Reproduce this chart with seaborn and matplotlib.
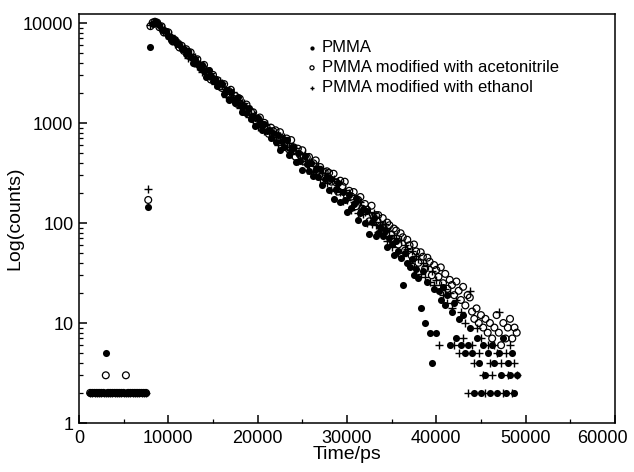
import matplotlib
matplotlib.use("Agg")
import matplotlib.pyplot as plt
import seaborn as sns
from matplotlib.ticker import FixedLocator, MultipleLocator, LogLocator, NullFormatter
from matplotlib.transforms import ScaledTranslation

# time channels (ps), one every 250 ps
time_ps = list(range(1250, 49001, 250))

series_labels = ["PMMA", "PMMA modified with acetonitrile", "PMMA modified with ethanol"]
x_tick_labels = ["0", "10000", "20000", "30000", "40000", "50000", "60000"]
y_tick_labels = ["1", "10", "100", "1000", "10000"]

# counts (background, rise, peak, decay, tail)
pmma = [
    2, 2, 2, 2, 2, 2, 2, 5, 2, 2, 2, 2, 2, 2, 2, 2, 2, 2, 2, 2, 2, 2, 2, 2, 2, 2,
    145, 5800, 9700, 10200, 10000,
    9550, 8470, 8470, 8390, 7450, 6800, 7090, 6550, 6170, 6170, 5470, 5480,
    4850, 5250, 4530, 3960, 4360, 4020, 3520, 3830, 3330, 2880, 3390, 2960,
    2640, 2760, 2320, 2540,
    2450, 1970, 2130, 1710, 2060, 1730, 1570, 1830, 1530, 1280, 1470, 1250,
    1400, 1100, 1180, 930, 1110, 976, 849, 986, 831, 846, 706, 799,
    648, 761, 540, 665, 582, 676, 483, 539, 573, 409, 502, 416,
    342, 469, 386, 335, 394, 293, 345, 291, 344, 241, 275, 288,
    213, 274, 172, 218, 250, 164, 205, 169, 129, 189, 140, 156,
    179, 108, 126, 138, 100, 133, 77, 102, 112, 74, 80, 92,
    74, 86, 58, 70, 61, 48, 66, 52, 45, 24, 50, 40,
    36, 44, 30, 35, 28, 14, 33, 10, 26, 8, 4, 22,
    8, 21, 17, 23, 15, 19, 6, 13, 16, 7, 11, 6,
    12, 5, 6, 9, 5, 2, 7, 4, 2, 6, 3, 5,
    2, 6, 4, 2, 5, 3, 7, 2, 4, 3, 5, 2, 3,
]

pmma_acetonitrile = [
    2, 2, 2, 2, 2, 2, 2, 3, 2, 2, 2, 2, 2, 2, 2, 2, 3, 2, 2, 2, 2, 2, 2, 2, 2, 2,
    170, 9300, 10100, 10300, 10100,
    9080, 9260, 8050, 8070, 8060, 7160, 6540, 6750, 6350, 5690, 5920, 5260,
    5470, 4710, 5080, 4490, 3940, 4340, 3750, 3750, 3810, 3200, 3300, 2720,
    3030, 2710, 2680, 2320,
    2240, 2450, 1940, 2090, 2150, 1760, 1860, 1550, 1750, 1510, 1290, 1530,
    1220, 1290, 1280, 1060, 1100, 1135, 944, 1004, 910, 779, 898, 829,
    846, 670, 810, 698, 625, 700, 545, 675, 573, 459, 554, 480,
    534, 411, 454, 458, 346, 395, 423, 333, 363, 294, 324, 329,
    317, 259, 311, 256, 206, 265, 233, 259, 188, 210, 184, 204,
    147, 170, 182, 139, 155, 136, 104, 149, 114, 120, 120, 93,
    112, 82, 101, 95, 68, 88, 84, 61, 79, 72, 53, 68,
    60, 47, 61, 52, 40, 51, 46, 35, 45, 41, 30, 38,
    34, 29, 36, 25, 31, 22, 27, 24, 19, 26, 21, 17,
    23, 15, 19, 18, 13, 11, 14, 10, 12, 9, 11, 8,
    10, 7, 9, 12, 8, 6, 10, 7, 9, 11, 7, 9, 8,
]

pmma_ethanol = [
    2, 2, 2, 2, 2, 2, 2, 2, 2, 2, 2, 2, 2, 2, 2, 2, 2, 2, 2, 2, 2, 2, 2, 2, 2, 2,
    220, 9600, 10000, 10150, 9950,
    9730, 8730, 8640, 7590, 7600, 7520, 6740, 6160, 6540, 5990, 5580, 5580,
    5160, 4420, 4850, 4220, 4610, 3740, 3900, 3210, 3500, 3500, 2950, 3140,
    2750, 2470, 2650, 2640,
    2540, 2210, 1840, 2130, 1800, 2030, 1690, 1700, 1410, 1590, 1570, 1290,
    1140, 1230, 1080, 1190, 905, 1046, 1021, 840, 971, 821, 826, 722,
    765, 606, 736, 607, 718, 581, 630, 490, 537, 564, 421, 489,
    416, 494, 342, 393, 405, 325, 328, 371, 276, 315, 318, 253,
    281, 212, 277, 208, 263, 202, 165, 213, 171, 200, 134, 164,
    166, 127, 161, 123, 128, 100, 128, 97, 126, 95, 81, 102,
    79, 97, 66, 84, 58, 76, 71, 50, 67, 47, 60, 55,
    40, 52, 36, 47, 44, 31, 40, 29, 37, 26, 33, 24,
    27, 6, 24, 19, 22, 16, 20, 14, 6, 17, 5, 13,
    7, 10, 2, 21, 6, 4, 9, 5, 7, 3, 2, 6,
    4, 3, 6, 5, 13, 4, 2, 5, 3, 6, 2, 4, 3,
]

sns.set_style("ticks")
plt.rcParams["font.family"] = ["Liberation Sans", "DejaVu Sans"]
plt.rcParams["text.color"] = "black"
plt.rcParams["axes.labelcolor"] = "black"

fig = plt.figure(figsize=(6.34, 4.72), dpi=100)
ax = fig.add_axes([0.1246, 0.1038, 0.8454, 0.8665])

sns.scatterplot(x=time_ps, y=pmma, marker="o", color="black", s=26,
                linewidth=0, ax=ax, label=series_labels[0], legend=False)
sns.scatterplot(x=time_ps, y=pmma_ethanol, marker="+", color="black", s=28,
                linewidth=1.0, ax=ax, label=series_labels[2], legend=False)
sns.scatterplot(x=time_ps, y=pmma_acetonitrile, marker="o", facecolor="none",
                edgecolor="black", s=24, linewidth=0.9, ax=ax,
                label=series_labels[1], legend=False)

ax.set_yscale("log")
ax.set_xlim(0, 60000)
ax.set_ylim(1, 12300)

ax.yaxis.set_major_locator(FixedLocator([1, 10, 100, 1000, 10000]))
ax.set_yticklabels(y_tick_labels)
ax.yaxis.set_minor_locator(LogLocator(base=10, subs=range(2, 10)))
ax.yaxis.set_minor_formatter(NullFormatter())
ax.xaxis.set_major_locator(FixedLocator(range(0, 60001, 10000)))
# the last label is drawn separately, nudged left as in the original
ax.set_xticklabels(x_tick_labels[:-1] + [""])
ax.xaxis.set_minor_locator(MultipleLocator(5000))

ax.tick_params(which="both", direction="in", top=False, right=False,
               colors="black", labelcolor="black")
ax.tick_params(which="major", length=6, width=1.1, labelsize=13)
ax.tick_params(which="minor", length=3, width=0.9)
ax.tick_params(axis="x", pad=5)
ax.tick_params(axis="y", pad=4)
for sp in ax.spines.values():
    sp.set_linewidth(1.1)
    sp.set_color("black")

trans, va, ha = ax.get_xaxis_text1_transform(5)
ax.text(60000, 0, x_tick_labels[-1], fontsize=13, va=va, ha=ha, color="black",
        transform=trans + ScaledTranslation(-0.13, 0, fig.dpi_scale_trans))

ax.set_xlabel("Time/ps", fontsize=14)
ax.set_ylabel("Log(counts)", fontsize=14)
ax.xaxis.set_label_coords(0.5, -0.056)
ax.yaxis.set_label_coords(-0.103, 0.5)

handles, labels = ax.get_legend_handles_labels()
order = [labels.index(l) for l in series_labels]
ax.legend([handles[i] for i in order], series_labels, loc="upper left",
          bbox_to_anchor=(0.4254, 0.936), frameon=False, fontsize=12,
          handlelength=0.6, handletextpad=0.3, labelspacing=0.3,
          borderpad=0, borderaxespad=0, markerscale=0.6)

fig.savefig("out.png", dpi=100)
